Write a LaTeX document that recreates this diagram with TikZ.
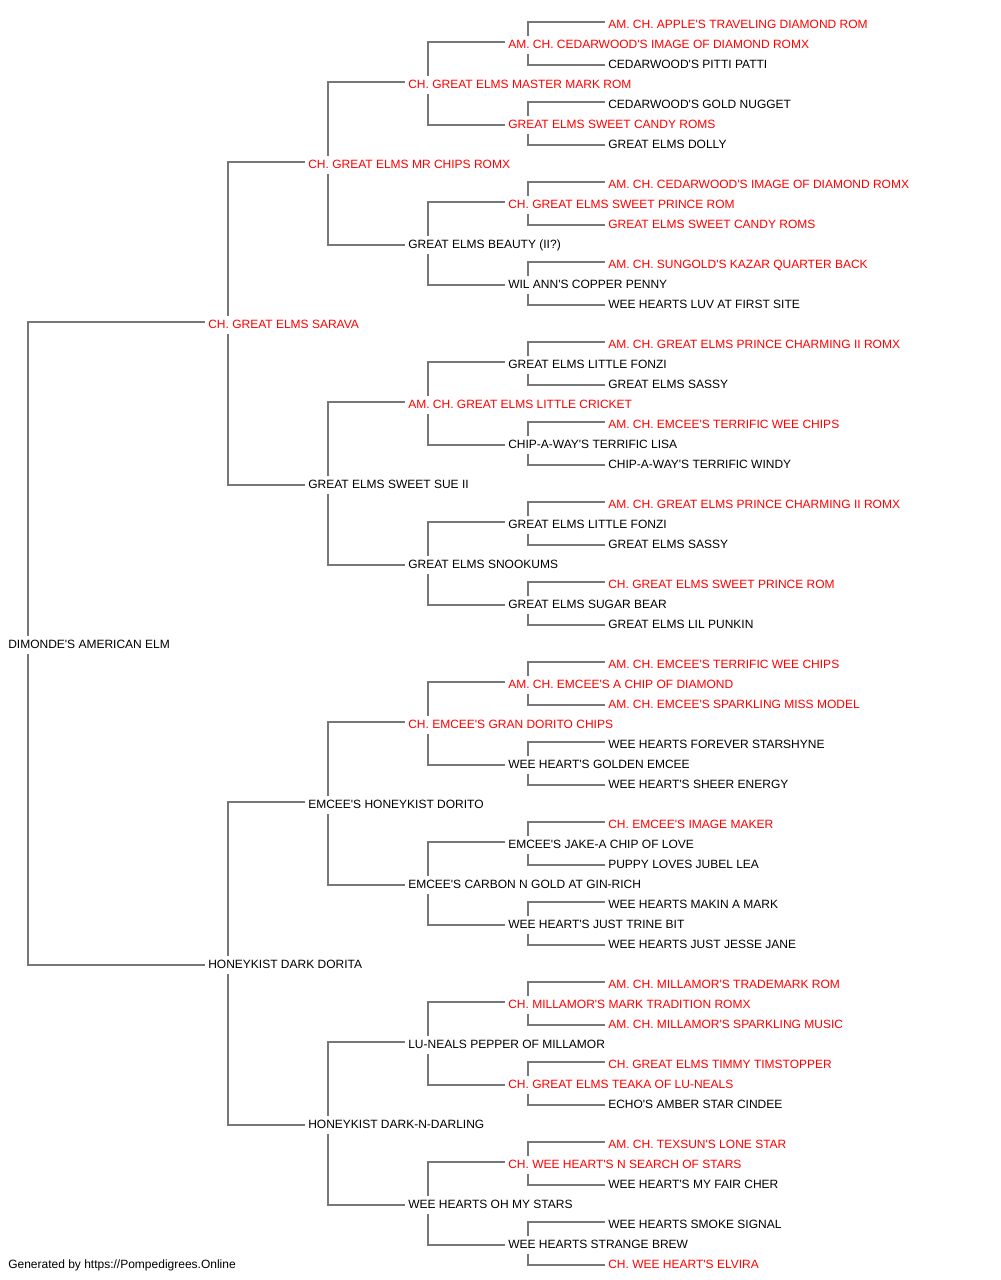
\documentclass[tikz,border=0pt]{standalone}
\usepackage{fontspec}
\setmainfont{Liberation Sans}[Ligatures=TeXOff]
\definecolor{champred}{RGB}{255,0,0}
\definecolor{linkgray}{RGB}{119,119,119}
\tikzset{
  dog/.style={anchor=west,inner xsep=2.25pt,inner ysep=2.25pt,text height=7pt,text depth=2pt,font=\fontsize{9}{10}\selectfont},
  champ/.style={dog,text=champred},
  link/.style={draw=linkgray,line width=1.1pt}
}

\begin{document}
\begin{tikzpicture}[x=.75pt,y=-.75pt]
\useasboundingbox (0,0) rectangle (1000,1280);
%dog himself
\node[dog] (n1) at (5,645) {DIMONDE'S AMERICAN ELM};
%parents
\node[champ] (n2) at (205,325) {CH. GREAT ELMS SARAVA};
\node[dog] (n3) at (205,965) {HONEYKIST DARK DORITA};
%grandparents
\node[champ] (n4) at (305,165) {CH. GREAT ELMS MR CHIPS ROMX};
\node[dog] (n5) at (305,485) {GREAT ELMS SWEET SUE II};
\node[dog] (n6) at (305,805) {EMCEE'S HONEYKIST DORITO};
\node[dog] (n7) at (305,1125) {HONEYKIST DARK-N-DARLING};
%great grandparents
\node[champ] (n8) at (405,85) {CH. GREAT ELMS MASTER MARK ROM};
\node[dog] (n9) at (405,245) {GREAT ELMS BEAUTY (II?)};
\node[champ] (n10) at (405,405) {AM. CH. GREAT ELMS LITTLE CRICKET};
\node[dog] (n11) at (405,565) {GREAT ELMS SNOOKUMS};
\node[champ] (n12) at (405,725) {CH. EMCEE'S GRAN DORITO CHIPS};
\node[dog] (n13) at (405,885) {EMCEE'S CARBON N GOLD AT GIN-RICH};
\node[dog] (n14) at (405,1045) {LU-NEALS PEPPER OF MILLAMOR};
\node[dog] (n15) at (405,1205) {WEE HEARTS OH MY STARS};
%4th generation
\node[champ] (n16) at (505,45) {AM. CH. CEDARWOOD'S IMAGE OF DIAMOND ROMX};
\node[champ] (n17) at (505,125) {GREAT ELMS SWEET CANDY ROMS};
\node[champ] (n18) at (505,205) {CH. GREAT ELMS SWEET PRINCE ROM};
\node[dog] (n19) at (505,285) {WIL ANN'S COPPER PENNY};
\node[dog] (n20) at (505,365) {GREAT ELMS LITTLE FONZI};
\node[dog] (n21) at (505,445) {CHIP-A-WAY'S TERRIFIC LISA};
\node[dog] (n22) at (505,525) {GREAT ELMS LITTLE FONZI};
\node[dog] (n23) at (505,605) {GREAT ELMS SUGAR BEAR};
\node[champ] (n24) at (505,685) {AM. CH. EMCEE'S A CHIP OF DIAMOND};
\node[dog] (n25) at (505,765) {WEE HEART'S GOLDEN EMCEE};
\node[dog] (n26) at (505,845) {EMCEE'S JAKE-A CHIP OF LOVE};
\node[dog] (n27) at (505,925) {WEE HEART'S JUST TRINE BIT};
\node[champ] (n28) at (505,1005) {CH. MILLAMOR'S MARK TRADITION ROMX};
\node[champ] (n29) at (505,1085) {CH. GREAT ELMS TEAKA OF LU-NEALS};
\node[champ] (n30) at (505,1165) {CH. WEE HEART'S N SEARCH OF STARS};
\node[dog] (n31) at (505,1245) {WEE HEARTS STRANGE BREW};
%5th generation
\node[champ] (n32) at (605,25) {AM. CH. APPLE'S TRAVELING DIAMOND ROM};
\node[dog] (n33) at (605,65) {CEDARWOOD'S PITTI PATTI};
\node[dog] (n34) at (605,105) {CEDARWOOD'S GOLD NUGGET};
\node[dog] (n35) at (605,145) {GREAT ELMS DOLLY};
\node[champ] (n36) at (605,185) {AM. CH. CEDARWOOD'S IMAGE OF DIAMOND ROMX};
\node[champ] (n37) at (605,225) {GREAT ELMS SWEET CANDY ROMS};
\node[champ] (n38) at (605,265) {AM. CH. SUNGOLD'S KAZAR QUARTER BACK};
\node[dog] (n39) at (605,305) {WEE HEARTS LUV AT FIRST SITE};
\node[champ] (n40) at (605,345) {AM. CH. GREAT ELMS PRINCE CHARMING II ROMX};
\node[dog] (n41) at (605,385) {GREAT ELMS SASSY};
\node[champ] (n42) at (605,425) {AM. CH. EMCEE'S TERRIFIC WEE CHIPS};
\node[dog] (n43) at (605,465) {CHIP-A-WAY'S TERRIFIC WINDY};
\node[champ] (n44) at (605,505) {AM. CH. GREAT ELMS PRINCE CHARMING II ROMX};
\node[dog] (n45) at (605,545) {GREAT ELMS SASSY};
\node[champ] (n46) at (605,585) {CH. GREAT ELMS SWEET PRINCE ROM};
\node[dog] (n47) at (605,625) {GREAT ELMS LIL PUNKIN};
\node[champ] (n48) at (605,665) {AM. CH. EMCEE'S TERRIFIC WEE CHIPS};
\node[champ] (n49) at (605,705) {AM. CH. EMCEE'S SPARKLING MISS MODEL};
\node[dog] (n50) at (605,745) {WEE HEARTS FOREVER STARSHYNE};
\node[dog] (n51) at (605,785) {WEE HEART'S SHEER ENERGY};
\node[champ] (n52) at (605,825) {CH. EMCEE'S IMAGE MAKER};
\node[dog] (n53) at (605,865) {PUPPY LOVES JUBEL LEA};
\node[dog] (n54) at (605,905) {WEE HEARTS MAKIN A MARK};
\node[dog] (n55) at (605,945) {WEE HEARTS JUST JESSE JANE};
\node[champ] (n56) at (605,985) {AM. CH. MILLAMOR'S TRADEMARK ROM};
\node[champ] (n57) at (605,1025) {AM. CH. MILLAMOR'S SPARKLING MUSIC};
\node[champ] (n58) at (605,1065) {CH. GREAT ELMS TIMMY TIMSTOPPER};
\node[dog] (n59) at (605,1105) {ECHO'S AMBER STAR CINDEE};
\node[champ] (n60) at (605,1145) {AM. CH. TEXSUN'S LONE STAR};
\node[dog] (n61) at (605,1185) {WEE HEART'S MY FAIR CHER};
\node[dog] (n62) at (605,1225) {WEE HEARTS SMOKE SIGNAL};
\node[champ] (n63) at (605,1265) {CH. WEE HEART'S ELVIRA};
%brackets: sire up, dam down
\foreach \p in {1,...,31}{
  \pgfmathtruncatemacro{\s}{2*\p}
  \pgfmathtruncatemacro{\d}{2*\p+1}
  \draw[link] ([xshift=17.25pt]n\p.north west) |- ([yshift=2.25pt]n\s.west);
  \draw[link] ([xshift=17.25pt]n\p.south west) |- (n\d.west);
}
\node[dog] (footer) at (5,1265) {Generated by https://Pompedigrees.Online};
\end{tikzpicture}
\end{document}
